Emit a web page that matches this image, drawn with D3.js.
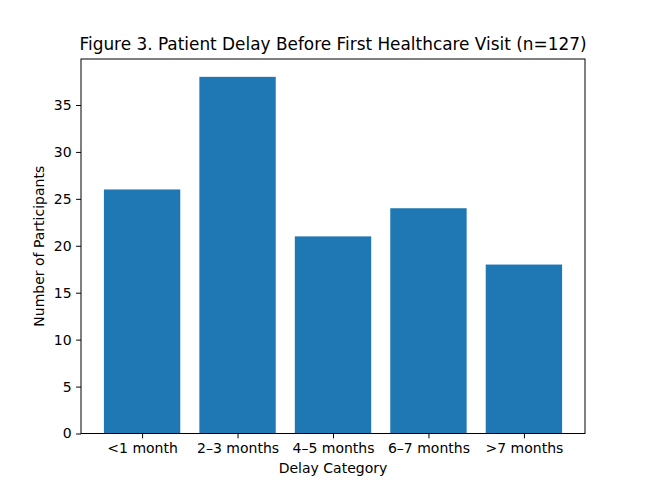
<!DOCTYPE html>
<html><head><meta charset="utf-8">
<script src="https://cdn.jsdelivr.net/npm/d3@7"></script>
<style>body{margin:0;background:#fff;} svg{display:block;} text{font-family:"DejaVu Sans",sans-serif;fill:#000;}</style>
</head><body>
<svg id="c" width="650" height="487"></svg>
<script>
const categories = ["<1 month", "2–3 months", "4–5 months", "6–7 months", ">7 months"];
const counts = [26, 38, 21, 24, 18];
const yTicks = [0, 5, 10, 15, 20, 25, 30, 35];

const svg = d3.select("#c");
const L = 81, R = 585, T = 59, B = 433.5;
const x = d3.scaleLinear().domain([-0.64, categories.length - 1 + 0.64]).range([L, R]);
const y = d3.scaleLinear().domain([0, d3.max(counts) * 1.05]).range([B, T]);
const bw = 0.8;

svg.append("g").selectAll("rect").data(counts).join("rect")
  .attr("x", (d, i) => x(i - bw / 2))
  .attr("width", (d, i) => x(i + bw / 2) - x(i - bw / 2))
  .attr("y", d => y(d))
  .attr("height", d => y(0) - y(d))
  .attr("fill", "#1f77b4");

const xAxis = d3.axisBottom(x).tickValues(d3.range(categories.length))
  .tickFormat(i => categories[i]).tickSize(4.9).tickPadding(4.5);
const gx = svg.append("g").attr("transform", `translate(0,${B})`).call(xAxis);
const yAxis = d3.axisLeft(y).tickValues(yTicks).tickSize(4.9).tickPadding(4.5);
const gy = svg.append("g").attr("transform", `translate(${L},0)`).call(yAxis);
[gx, gy].forEach(g => {
  g.select(".domain").remove();
  g.selectAll("line").attr("stroke", "#000").attr("stroke-width", 1);
  g.selectAll("text").style("font-size", "14px").attr("fill", "#000");
});

svg.append("rect").attr("x", L).attr("y", T).attr("width", R - L).attr("height", B - T)
  .attr("fill", "none").attr("stroke", "#000").attr("stroke-width", 1);

svg.append("text").attr("x", (L + R) / 2).attr("y", 50).attr("text-anchor", "middle")
  .style("font-size", "16.9px").text("Figure 3. Patient Delay Before First Healthcare Visit (n=127)");
svg.append("text").attr("x", (L + R) / 2).attr("y", 473).attr("text-anchor", "middle")
  .style("font-size", "14px").text("Delay Category");
svg.append("text").attr("transform", `translate(44,${(T + B) / 2}) rotate(-90)`).attr("text-anchor", "middle")
  .style("font-size", "14px").text("Number of Participants");
</script>
</body></html>
